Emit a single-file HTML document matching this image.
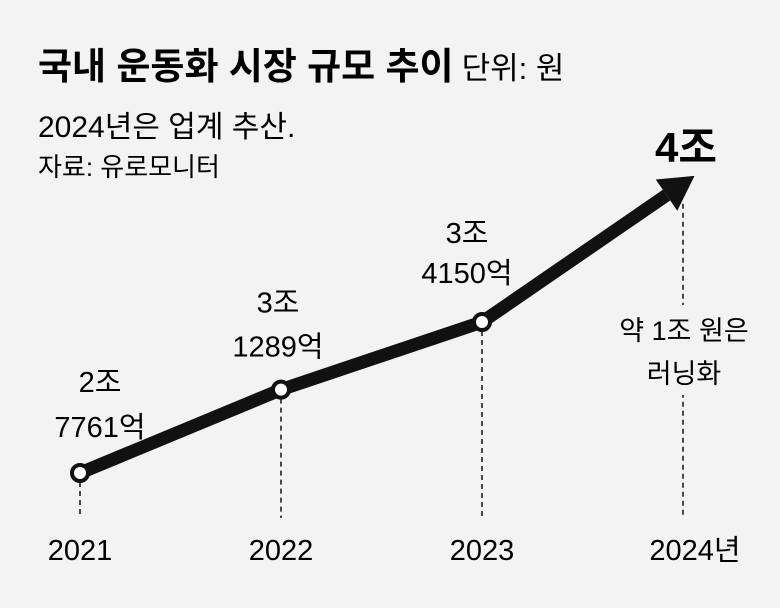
<!DOCTYPE html>
<html><head><meta charset="utf-8">
<style>
html,body{margin:0;padding:0;background:#f3f3f3;}
#wrap{position:relative;width:780px;height:608px;overflow:hidden;background:#f3f3f3;font-family:"Liberation Sans","Noto Sans CJK KR",sans-serif;color:#111;}
</style></head>
<body>
<div id="wrap">
<svg id="chart" width="780" height="608" style="position:absolute;left:0;top:0;font-family:'Liberation Sans','Noto Sans CJK KR',sans-serif">
<text x="38" y="79" font-size="37" font-weight="bold">국내 운동화 시장 규모 추이<tspan font-size="31" font-weight="normal" dx="8">단위: 원</tspan></text>
<text x="38" y="137" font-size="30">2024년은 업계 추산.</text>
<text x="38" y="176" font-size="26">자료: 유로모니터</text>
</svg>
</div>
<script>
const years = ['2021','2022','2023','2024년'];
const values = [27761, 31289, 34150, 40000];
const labelTop = ['2조','3조','3조','4조'];
const labelBottom = ['7761억','1289억','4150억',''];
const NS='http://www.w3.org/2000/svg';
const svg=document.getElementById('chart');
function xs(i){return 80+i*201;}
function ys(v){return 473-(v-27761)*0.02363;}
function mk(tag,attrs){const e=document.createElementNS(NS,tag);for(const k in attrs)e.setAttribute(k,attrs[k]);svg.appendChild(e);return e;}
for(let i=0;i<values.length;i++){
  const top = i<3 ? ys(values[i]) : ys(values[i])+20;
  const d=mk('line',{x1:xs(i),x2:xs(i),y1:top,y2:518,stroke:'#111','stroke-width':1.5,'stroke-dasharray':'5,4'});
  
  
  const t=mk('text',{x:xs(i)+(i==3?12:0),y:560,'font-size':29,'text-anchor':'middle'});
  t.textContent=years[i];
  
  
}
let pts=values.map((v,i)=>[xs(i),ys(v)]);
const last=pts[3],prev=pts[2];
const dx=last[0]-prev[0],dy=last[1]-prev[1],L=Math.hypot(dx,dy),ux=dx/L,uy=dy/L;
const tip=[last[0]+ux*14,last[1]+uy*14];
const base=[tip[0]-ux*34,tip[1]-uy*34];
const linePts=pts.slice(0,3).concat([base]);
const pl=mk('polyline',{points:linePts.map(p=>p.join(',')).join(' '),fill:'none',stroke:'#111','stroke-width':13,'stroke-linejoin':'round'});


const px=-uy,py=ux;
const ah=mk('polygon',{points:[tip,[base[0]+px*19,base[1]+py*19],[base[0]-px*19,base[1]-py*19]].map(p=>p.join(',')).join(' '),fill:'#111'});


const offs=[[20,-81,-36],[-3,-77,-33],[-15,-79,-39]];
for(let i=0;i<3;i++){
  const c=mk('circle',{cx:pts[i][0],cy:pts[i][1],r:8,fill:'#fff',stroke:'#111','stroke-width':4});
  
  
  const t1=mk('text',{x:pts[i][0]+offs[i][0],y:pts[i][1]+offs[i][1],'font-size':29,'text-anchor':'middle'});
  t1.textContent=labelTop[i];
  
  
  const t2=mk('text',{x:pts[i][0]+offs[i][0],y:pts[i][1]+offs[i][2],'font-size':29,'text-anchor':'middle'});
  t2.textContent=labelBottom[i];
  
  
}
const t4=mk('text',{x:686,y:162,'font-size':42,'font-weight':'bold','text-anchor':'middle'});
t4.textContent=labelTop[3];


const n1=mk('rect',{x:610,y:305,width:150,height:90,fill:'#f3f3f3'});


const a=mk('text',{x:684,y:340,'font-size':27,'text-anchor':'middle'});
a.textContent='약 1조 원은';


const b=mk('text',{x:684,y:383,'font-size':27,'text-anchor':'middle'});
b.textContent='러닝화';


</script>
</body></html>
